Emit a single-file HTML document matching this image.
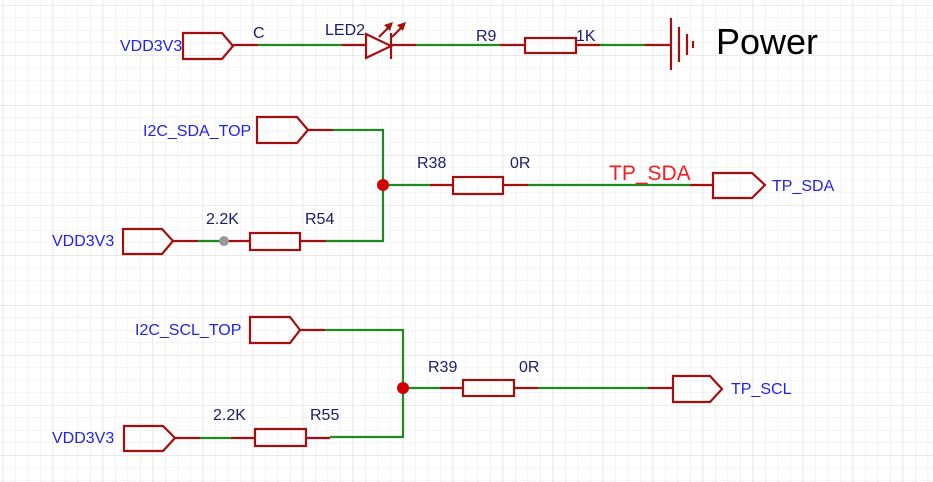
<!DOCTYPE html>
<html><head><meta charset="utf-8"><style>
html,body{margin:0;padding:0;background:#fff;}
svg{display:block;}
text{font-family:"Liberation Sans",sans-serif;}
</style></head><body>
<svg width="933" height="482" viewBox="0 0 933 482" xmlns="http://www.w3.org/2000/svg">
<defs>
<pattern id="g" x="2.6" y="5" width="12.5" height="12.5" patternUnits="userSpaceOnUse">
<path d="M0 0H12.5M0 0V12.5" stroke="#e8e8e8" stroke-width="1" fill="none"/>
</pattern>
<pattern id="G" x="2.6" y="5" width="50" height="50" patternUnits="userSpaceOnUse">
<path d="M0 0H50M0 0V50" stroke="#dddddd" stroke-width="1.2" fill="none"/>
</pattern>
</defs>
<rect width="933" height="482" fill="#fff"/>
<rect width="933" height="482" fill="url(#g)"/>
<rect width="933" height="482" fill="url(#G)"/>

<g fill="none" stroke-width="2.2">
<g stroke="#1f8a1f">
<path d="M258 45H342M416 45H500M600 45H645"/>
<path d="M333 130H383V241H326M198 241H224M383 185H430M528 185H690"/>
<path d="M325 330H403V437H330M200 438H231M403 388H440M538 388H648"/>
</g>
<g stroke="#a30f0f">
<path d="M233 45H258M342 45H366M391 45H416M500 45H525M576 45H600M645 45H671"/>
<path d="M183 33H222L233 46L222 59H183Z"/>
<rect x="525" y="38" width="51" height="15"/>
<path d="M366 34V58L391 46Z"/>
<path d="M391 33V59"/>
<path d="M671 18V70M679 27V62M687 34V55M693 41V48"/>
<path d="M257 117H297L308 130L297 143H257Z"/>
<path d="M308 130H333"/>
<path d="M123 229H162L173 241L162 254H123Z"/>
<path d="M173 241H198M224 241H250M300 241H326"/>
<rect x="250" y="233" width="50" height="17"/>
<path d="M430 185H453M503 185H528M690 185H713"/>
<rect x="453" y="177" width="50" height="17"/>
<path d="M713 173H752L765 185L752 198H713Z"/>
<path d="M250 317H290L300 330L290 343H250Z"/>
<path d="M300 330H325"/>
<path d="M124 426H163L175 438L163 451H124Z"/>
<path d="M175 438H200M231 438H255M306 438H330"/>
<rect x="255" y="429" width="51" height="17"/>
<path d="M440 388H463M514 388H538M648 388H673"/>
<rect x="463" y="380" width="51" height="16"/>
<path d="M673 376H710L722 389L710 402H673Z"/>
</g>
<g stroke="#a30f0f" stroke-width="2.2">
<path d="M379 37L391 25M392 37L404 25"/>
</g>
<g fill="#a30f0f">
<path d="M393 22L384 25L390 31Z"/>
<path d="M406 22L397 25L403 31Z"/>
</g>
</g>
<circle cx="383" cy="185" r="6" fill="#d40000"/>
<circle cx="403" cy="388" r="6" fill="#d40000"/>
<circle cx="224" cy="241" r="5" fill="#999"/>

<g font-size="16" fill="#2222ee">
<text x="120" y="51">VDD3V3</text>
<text x="143" y="136">I2C_SDA_TOP</text>
<text x="52" y="246">VDD3V3</text>
<text x="135" y="335">I2C_SCL_TOP</text>
<text x="52" y="443">VDD3V3</text>
<text x="772" y="191">TP_SDA</text>
<text x="731" y="394">TP_SCL</text>
</g>
<g font-size="16" fill="#1c1c6a">
<text x="253" y="38">C</text>
<text x="325" y="35">LED2</text>
<text x="476" y="41">R9</text>
<text x="576" y="41">1K</text>
<text x="206" y="224">2.2K</text>
<text x="305" y="224">R54</text>
<text x="417" y="168">R38</text>
<text x="510" y="168">0R</text>
<text x="213" y="420">2.2K</text>
<text x="310" y="420">R55</text>
<text x="428" y="372">R39</text>
<text x="519" y="372">0R</text>
</g>
<text x="609" y="180" font-size="21" fill="#ff1a1a">TP_SDA</text>
<text x="716" y="54" font-size="36" fill="#000">Power</text>
</svg>
</body></html>
